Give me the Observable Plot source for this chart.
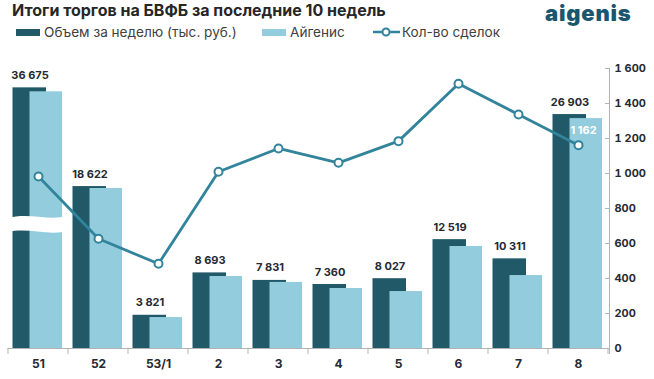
<!DOCTYPE html>
<html>
<head>
<meta charset="utf-8">
<script src="https://cdn.jsdelivr.net/npm/d3@7"></script>
<script src="https://cdn.jsdelivr.net/npm/@observablehq/plot@0.6"></script>
<style>
  body { margin: 0; background: #fff; font-family: Inter, "Open Sans", sans-serif; }
  #wrap { position: relative; width: 654px; height: 379px; overflow: hidden; }
  #head { position: relative; height: 40px; }
  .title { position: absolute; left: 12px; top: 0px; font-size: 16px; line-height: 20px; font-weight: 700; color: #262626; white-space: nowrap; }
  .logo { position: absolute; left: 545px; top: 0px; font-size: 22px; line-height: normal; font-weight: 900; letter-spacing: 0.8px; color: #1b5670; }
  .leg { position: absolute; top: 23px; font-size: 13.6px; line-height: 18px; color: #404040; white-space: nowrap; display: flex; align-items: center; }
  .sw { display: inline-block; width: 24px; height: 7px; margin-right: 4px; }
</style>
</head>
<body>
<div id="wrap">
  <div id="head">
    <div class="title">Итоги торгов на БВФБ за последние 10 недель</div>
    <div class="logo">aigenis</div>
    <div class="leg" style="left:16px"><span class="sw" style="background:#215968"></span>Объем за неделю (тыс. руб.)</div>
    <div class="leg" style="left:262px"><span class="sw" style="background:#93cddd"></span>Айгенис</div>
    <div class="leg" style="left:373px"><svg width="27" height="12" style="margin-right:2px"><line x1="0" y1="6" x2="27" y2="6" stroke="#31849b" stroke-width="2.5"/><circle cx="13" cy="6" r="3.5" fill="#fff" stroke="#31849b" stroke-width="2"/></svg>Кол-во сделок</div>
  </div>
  <div id="chart"></div>
</div>
<script>
const weeks = ["51", "52", "53/1", "2", "3", "4", "5", "6", "7", "8"];
const volume = [36675, 18622, 3821, 8693, 7831, 7360, 8027, 12519, 10311, 26903];
const aigenis = [36220, 18400, 3560, 8280, 7600, 6900, 6550, 11730, 8390, 26440];
const deals = [983, 627, 484, 1010, 1143, 1061, 1185, 1513, 1337, 1162];
const rightTicks = [0, 200, 400, 600, 800, 1000, 1200, 1400, 1600];

const DARK = "#215968", LIGHT = "#93cddd", LINE = "#31849b", AXIS = "#b3b3b3", TXT = "#262a33";
// bars share the chart with the deals axis: 32200 (volume units) == 1600 (deals units)
const RATIO = 1600 / 32200;
// broken-axis for the first (very tall) week
const BREAK_AT = 30000, BREAK_CUT = 6700, BREAK_MID = 14250;
const shown = v => (v > BREAK_AT ? v - BREAK_CUT : v);
const fmt = d3.formatLocale({decimal: ",", thousands: "\u2009", grouping: [3]}).format(",d");
const fmtSp = v => fmt(v).replace(/\u2009/g, " ");

const data = weeks.map((w, i) => ({
  week: w, vol: volume[i], aig: aigenis[i], deals: deals[i],
  volY: shown(volume[i]) * RATIO, aigY: shown(aigenis[i]) * RATIO,
  broken: volume[i] > BREAK_AT
}));

function decor(index, scales, values, dims) {
  const x = scales.x, y = scales.y, bw = x.bandwidth();
  const x0 = dims.marginLeft, x1 = dims.width - dims.marginRight;
  const yb = dims.height - dims.marginBottom, yt = dims.marginTop;
  const g = d3.create("svg:g");
  g.append("line").attr("x1", x0).attr("x2", x1).attr("y1", yb + 0.5).attr("y2", yb + 0.5).attr("stroke", AXIS);
  const bounds = weeks.map(w => x(w)).concat([x(weeks[weeks.length - 1]) + bw]);
  for (const b of bounds) g.append("line").attr("x1", b).attr("x2", b).attr("y1", yb).attr("y2", yb + 6).attr("stroke", AXIS);
  g.append("line").attr("x1", x1 + 0.5).attr("x2", x1 + 0.5).attr("y1", yt).attr("y2", yb + 6).attr("stroke", AXIS);
  for (const t of rightTicks) g.append("line").attr("x1", x1 - 4).attr("x2", x1).attr("y1", y(t) + 0.5).attr("y2", y(t) + 0.5).attr("stroke", AXIS);
  for (const d of data.filter(d => d.broken)) {
    const a = x(d.week), c = a + bw, m = y(BREAK_MID * RATIO);
    const w = c - a + 2;
    const top = m - 8, bot = m + 8;
    const p = `M${a - 1},${top + 2} C${a + w * 0.35},${top - 4} ${a + w * 0.6},${top + 5} ${c + 1},${top}
      L${c + 1},${bot - 1} C${a + w * 0.6},${bot + 4} ${a + w * 0.35},${bot - 5} ${a - 1},${bot} Z`;
    g.append("path").attr("d", p).attr("fill", "#fff");
  }
  return g.node();
}

const chart = Plot.plot({
  width: 654, height: 339,
  marginTop: 28, marginBottom: 31, marginLeft: 7.5, marginRight: 45,
  style: {fontFamily: "Inter, 'Open Sans', sans-serif", color: TXT, background: "#fff"},
  x: {type: "band", domain: weeks, paddingInner: 0, paddingOuter: 0, label: null},
  y: {domain: [0, 1600], label: null},
  marks: [
    Plot.barY(data, {x: "week", y: "volY", fill: DARK, insetLeft: 4.5, insetRight: 22}),
    Plot.barY(data, {x: "week", y: "aigY", fill: LIGHT, insetLeft: 21.5, insetRight: 6}),
    decor,
    Plot.text(data, {x: "week", y: "volY", text: d => fmtSp(d.vol), dx: -8.5, dy: -9, lineAnchor: "bottom",
      fontSize: 11, fontWeight: 700, fill: TXT}),
    Plot.line(data, {x: "week", y: "deals", stroke: LINE, strokeWidth: 2.8}),
    Plot.dot(data, {x: "week", y: "deals", r: 4, fill: "#fff", stroke: LINE, strokeWidth: 2}),
    Plot.text(data.slice(-1), {x: "week", y: "deals", text: d => fmtSp(d.deals), dx: 5, dy: -15,
      fontSize: 11, fontWeight: 700, fill: "#fff"}),
    Plot.axisX({tickSize: 0, tickPadding: 11, fontSize: 12, fontWeight: 700, fill: TXT}),
    Plot.axisY({anchor: "right", ticks: rightTicks, tickSize: 0, tickPadding: 5, tickFormat: fmtSp,
      fontSize: 11, fontWeight: 700, fill: TXT, textAnchor: "start"})
  ]
});
document.getElementById("chart").appendChild(chart);
</script>
</body>
</html>
